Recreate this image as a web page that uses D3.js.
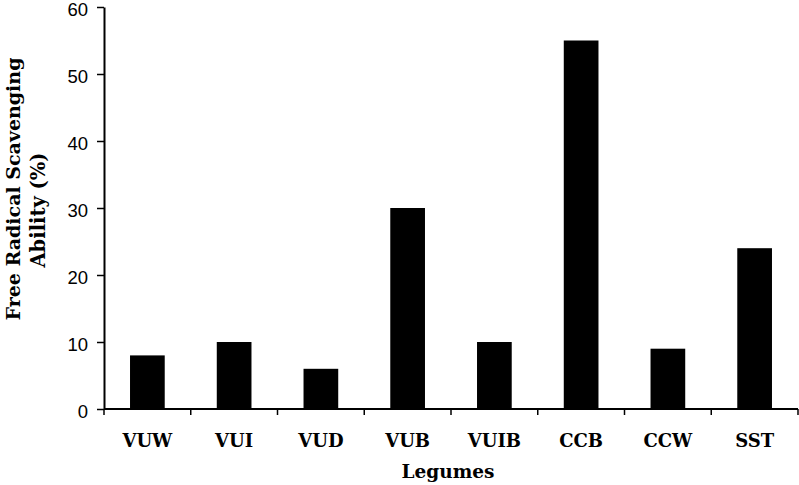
<!DOCTYPE html>
<html>
<head>
<meta charset="utf-8">
<script src="https://cdn.jsdelivr.net/npm/d3@7"></script>
<style>
  body { margin: 0; background: #fff; }
  svg { display: block; }
</style>
</head>
<body>
<div id="chart"></div>
<script>
// data
const legumes = ["VUW", "VUI", "VUD", "VUB", "VUIB", "CCB", "CCW", "SST"];
const scavenging = [8, 10, 6, 30, 10, 55, 9, 24];
const yTicks = [0, 10, 20, 30, 40, 50, 60];

const canvWidth = 799, canvHeight = 485;
const margin = {top: 7, right: 1, bottom: 76, left: 104};
const width = canvWidth - margin.left - margin.right;
const height = canvHeight - margin.top - margin.bottom;

const svg = d3.select("#chart").append("svg")
    .attr("width", canvWidth)
    .attr("height", canvHeight);

const g = svg.append("g")
    .attr("transform", `translate(${margin.left},${margin.top})`);

const x = d3.scaleBand()
    .domain(legumes)
    .range([0, width])
    .padding(0);

const y = d3.scaleLinear()
    .domain([0, 60])
    .range([height, 0]);

const barW = x.bandwidth() * 0.4;

// bars
g.selectAll("rect.bar")
    .data(legumes)
    .join("rect")
      .attr("class", "bar")
      .attr("x", (d) => x(d) + (x.bandwidth() - barW) / 2)
      .attr("y", (d, i) => y(scavenging[i]))
      .attr("width", barW)
      .attr("height", (d, i) => height - y(scavenging[i]))
      .attr("fill", "#000");

// y axis
const yAxis = g.append("g")
    .call(d3.axisLeft(y).tickValues(yTicks).tickSize(7).tickPadding(9).tickSizeOuter(0));
yAxis.select(".domain").attr("stroke-width", 2);
yAxis.selectAll(".tick line").attr("stroke-width", 1.5);
yAxis.selectAll("text")
    .attr("font-family", "'Liberation Sans', Arial, sans-serif")
    .attr("font-size", 18.5)
    .attr("dy", "0.45em")
    .attr("fill", "#000");

// x axis: ticks sit between the categories
const xAxis = g.append("g")
    .attr("transform", `translate(0,${height})`);
xAxis.append("line")
    .attr("x1", 0).attr("x2", width)
    .attr("stroke", "#000").attr("stroke-width", 2);
const bounds = legumes.map((d) => x(d)).concat([width]);
xAxis.selectAll("line.tk")
    .data(bounds)
    .join("line")
      .attr("class", "tk")
      .attr("x1", (d) => d).attr("x2", (d) => d)
      .attr("y1", 0).attr("y2", 6)
      .attr("stroke", "#000").attr("stroke-width", 1.5);
xAxis.selectAll("text.lbl")
    .data(legumes)
    .join("text")
      .attr("class", "lbl")
      .attr("x", (d) => x(d) + x.bandwidth() / 2)
      .attr("y", 38)
      .attr("text-anchor", "middle")
      .attr("font-family", "'DejaVu Serif', serif")
      .attr("font-weight", "bold")
      .attr("font-size", 18)
      .text((d) => d);

// axis titles
svg.append("text")
    .attr("x", 448)
    .attr("y", 478)
    .attr("text-anchor", "middle")
    .attr("font-family", "'DejaVu Serif', serif")
    .attr("font-weight", "bold")
    .attr("font-size", 18.5)
    .text("Legumes");

svg.append("text")
    .attr("transform", "translate(20,189) rotate(-90)")
    .attr("text-anchor", "middle")
    .attr("font-family", "'DejaVu Serif', serif")
    .attr("font-weight", "bold")
    .attr("font-size", 19)
    .text("Free Radical Scavenging");

svg.append("text")
    .attr("transform", "translate(45,210) rotate(-90)")
    .attr("text-anchor", "middle")
    .attr("font-family", "'DejaVu Serif', serif")
    .attr("font-weight", "bold")
    .attr("font-size", 19.5)
    .text("Ability (%)");
</script>
</body>
</html>
